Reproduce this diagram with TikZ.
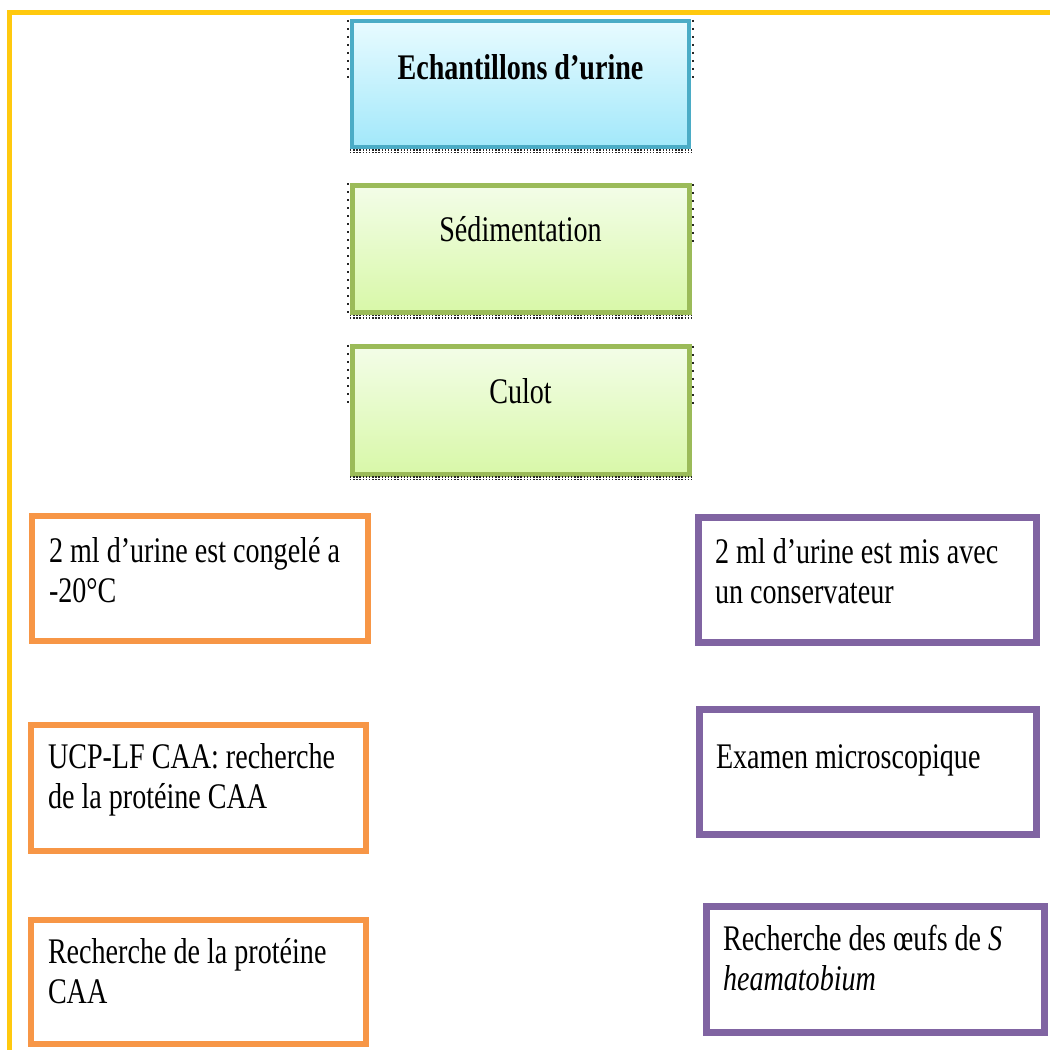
\documentclass[tikz,border=0pt]{standalone}
\usepackage{fontspec}
\setmainfont[FakeStretch=0.78]{Liberation Serif}
\usetikzlibrary{calc}
\definecolor{frameyellow}{HTML}{FFC90E}
\definecolor{boxblue}{HTML}{4BACC6}
\definecolor{bluetop}{HTML}{E8FBFF}
\definecolor{bluebottom}{HTML}{A2E8FA}
\definecolor{boxgreen}{HTML}{9BBB59}
\definecolor{greentop}{HTML}{F3FDE8}
\definecolor{greenbottom}{HTML}{D8F8A8}
\definecolor{boxorange}{HTML}{F79646}
\definecolor{boxpurple}{HTML}{8064A2}
\def\px{0.02cm}

\begin{document}
\begin{tikzpicture}[x=\px,y=-\px]
    \tikzstyle{box}=[rectangle, draw, anchor=north west, outer sep=0pt, inner xsep=17*\px, inner ysep=0pt,
                     font=\fontsize{20.5pt}{22.8pt}\selectfont]
    \tikzstyle{step box}=[box, text width=303*\px, align=flush center]
    \tikzstyle{blue box}=[step box, draw=boxblue, line width=4*\px, top color=bluetop, bottom color=bluebottom]
    \tikzstyle{green box}=[step box, draw=boxgreen, line width=5*\px, top color=greentop, bottom color=greenbottom]
    \tikzstyle{orange box}=[box, draw=boxorange, line width=6*\px, align=flush left]
    \tikzstyle{purple box}=[box, draw=boxpurple, line width=7*\px, align=flush left]
    \tikzstyle{side dots}=[line width=1.6*\px, black!85, dash pattern=on 1.6*\px off 6.4*\px]
    \tikzstyle{dots}=[densely dotted, line width=1.4*\px, black!85]

    \useasboundingbox (0,0) rectangle (1050,1050);

    % Draw the frame
    \draw[frameyellow, line width=5*\px] (9.5,1052) -- (9.5,13) -- (1052,13);

    % Draw the steps in the middle
    \node[blue box, text height=59*\px, text depth=67*\px] (echant) at (352,21) {\textbf{Echantillons d’urine}};
    \node[green box, text height=56.5*\px, text depth=70.5*\px] (sedim) at (352,185.5) {Sédimentation};
    \node[green box, text height=56*\px, text depth=71*\px] (culot) at (352,347) {Culot};

    % Dotted outlines round the steps
    \draw[side dots] ($(echant.north west)+(-4,-1)$) -- ($(echant.north west)+(-4,59)$);
    \draw[side dots] ($(echant.north east)+(4,-1)$) -- ($(echant.north east)+(4,59)$);
    \draw[side dots] ($(sedim.north west)+(-4,-2)$) -- ($(sedim.south west)+(-4,2)$);
    \draw[side dots] ($(sedim.north east)+(4,-1)$) -- ($(sedim.north east)+(4,58)$);
    \draw[side dots] ($(culot.north west)+(-4,-2)$) -- ($(culot.north west)+(-4,58)$);
    \draw[side dots] ($(culot.north east)+(4,-1)$) -- ($(culot.north east)+(4,58)$);
    \foreach \name in {echant,sedim,culot}
        \foreach \dy in {3,5.5}
            \draw[dots] ($(\name.south west)+(-2,\dy)$) -- ($(\name.south east)+(2,\dy)$);

    % Draw the left column
    \node[orange box, text width=302*\px, text height=46*\px, text depth=79*\px] (congel) at (32,516)
        {2 ml d’urine est congelé a\\-20°C};
    \node[orange box, text width=301*\px, text height=43*\px, text depth=83*\px] (ucplf) at (31,725)
        {UCP-LF CAA: recherche\\de la protéine CAA};
    \node[orange box, text width=301*\px, text height=43*\px, text depth=81*\px] (proteine) at (31,920)
        {Recherche de la protéine\\CAA};

    % Draw the right column
    \node[purple box, text width=304*\px, text height=46*\px, text depth=79*\px] (conserv) at (698,517)
        {2 ml d’urine est mis avec\\un conservateur};
    \node[purple box, text width=303*\px, text height=59*\px, text depth=66*\px] (examen) at (699,709)
        {Examen microscopique};
    \node[purple box, text width=304*\px, text height=44*\px, text depth=82*\px] (oeufs) at (706,906)
        {Recherche des œufs de \textit{S}\\\textit{heamatobium}};
\end{tikzpicture}
\end{document}
